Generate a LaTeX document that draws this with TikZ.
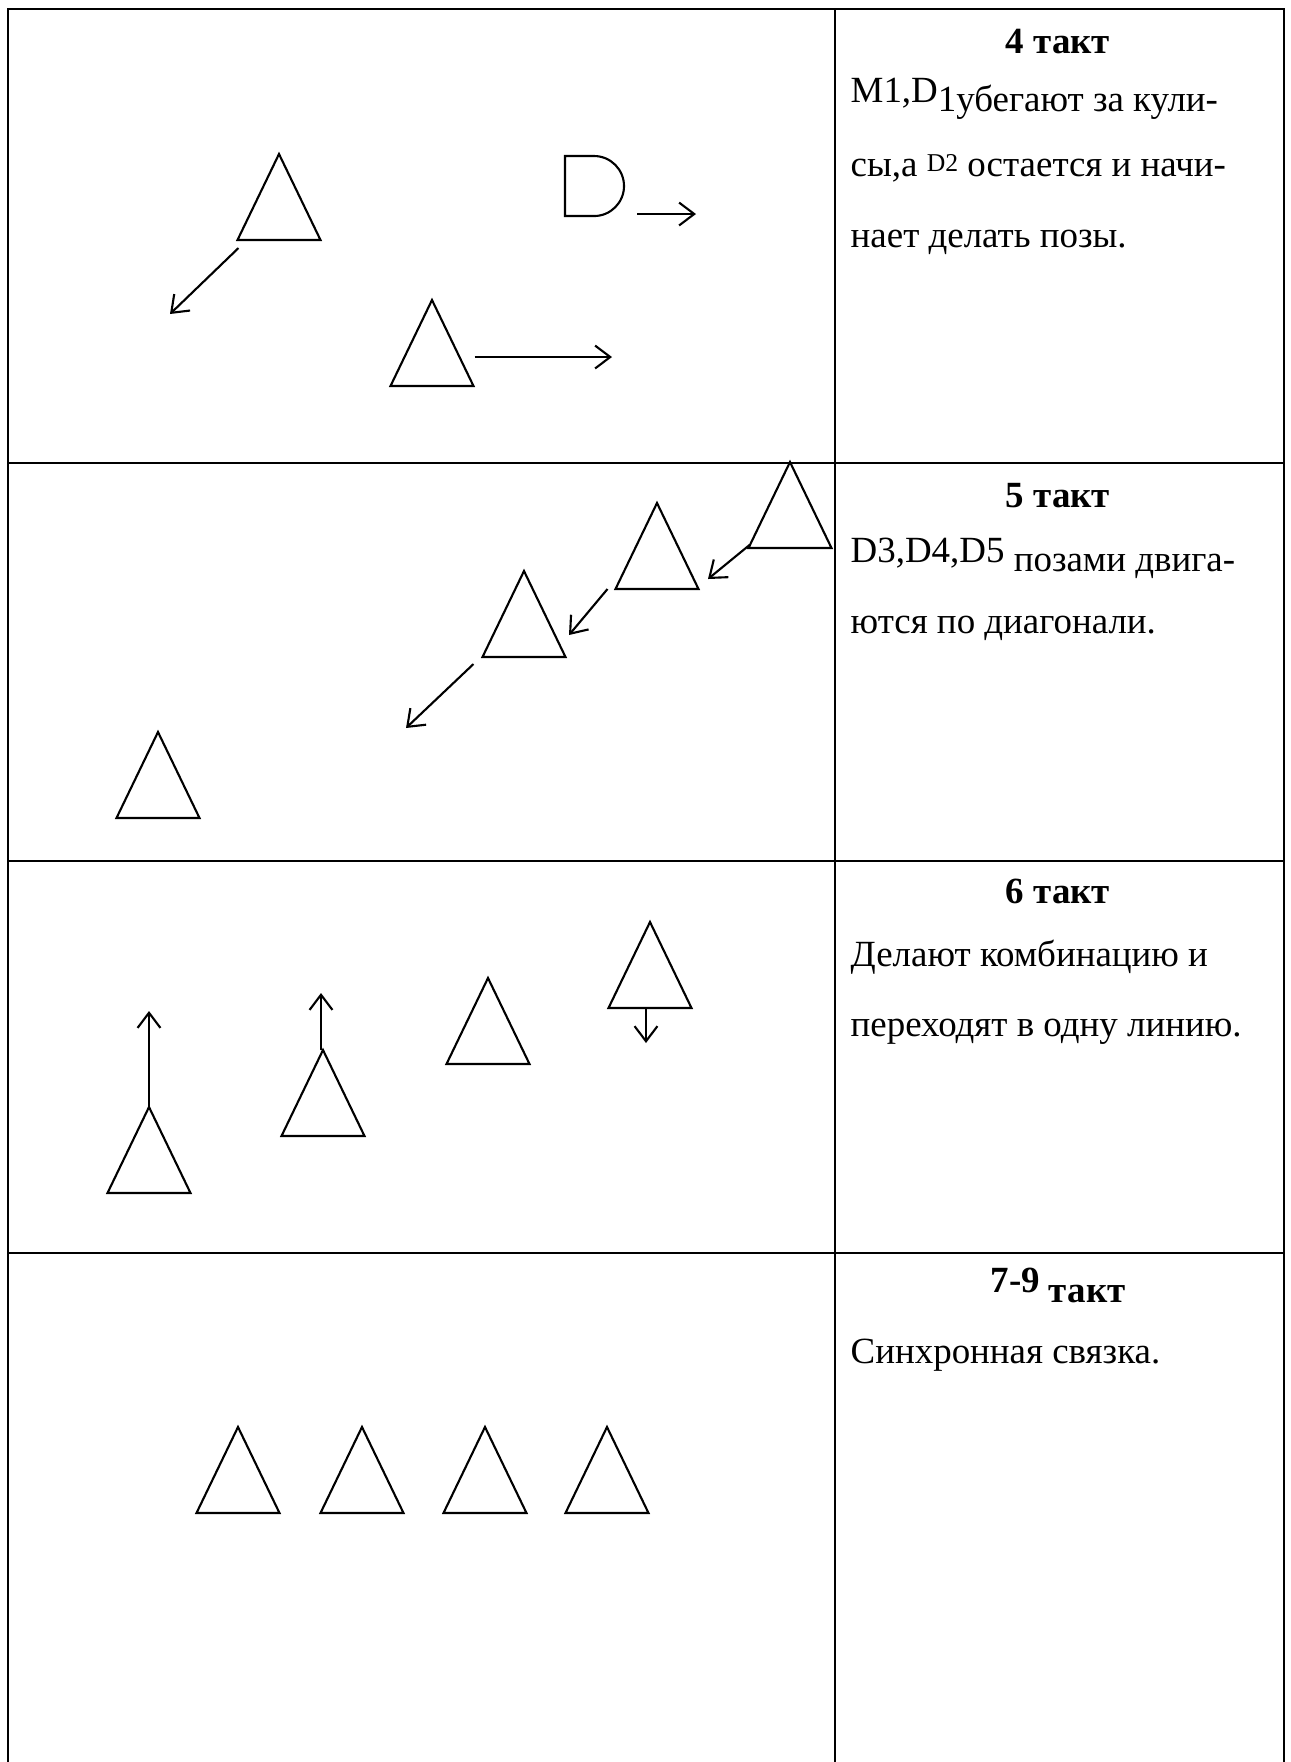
\documentclass[tikz,border=0pt]{standalone}
\usepackage{fontspec}
\setmainfont{Liberation Serif}
\usetikzlibrary{arrows.meta,calc}

\tikzset{
  figline/.style={line width=0.6pt},
  move/.style={line width=0.6pt, -{Straight Barb[length=4.3pt,width=6.5pt]}},
  grid/.style={line width=0.65pt},
  head/.style={anchor=base, inner sep=0pt, font=\fontsize{10.5}{12}\selectfont\bfseries},
  body/.style={anchor=base west, inner sep=0pt, font=\fontsize{10.5}{12}\selectfont},
  dancer/.pic={
    \draw[figline] (-41.5,0) coordinate (-bl) -- (41.5,0) coordinate (-br)
      -- (0,-86) coordinate (-apex) -- cycle;
    \coordinate (-base) at (0,0);
  }
}

\begin{document}
\begin{tikzpicture}[x=0.01cm, y=-0.01cm]
  \useasboundingbox (0,0) rectangle (1291,1762);

  % Table frame, no bottom rule
  \draw[grid] (8,1762) -- (8,9) -- (1284,9) -- (1284,1762);
  \draw[grid] (835,9) -- (835,1762);
  \draw[grid] (8,463) -- (1284,463);
  \draw[grid] (8,861) -- (1284,861);
  \draw[grid] (8,1253) -- (1284,1253);

  % Bar 4
  \pic (m1) at (279,240) {dancer};
  \coordinate (m1go) at (170,314);
  \draw[move] ($(m1-bl)+(1,8)$) -- (m1go);

  \draw[figline] (565,156) coordinate (dtwo) -- (594,156)
    arc[start angle=90, end angle=-90, radius=0.3cm] -- (565,216) -- cycle;
  \coordinate (dtwogo) at (696,214);
  \draw[move] ($(dtwo)+(72,58)$) -- (dtwogo);

  \pic (m2) at (432,386) {dancer};
  \coordinate (m2go) at (612,357);
  \draw[move] ($(m2-br)+(1,-29)$) -- (m2go);

  \node[head] (h4) at (1058,53) {4 такт};
  \node[body] (t4a) at (850,102) {M1,D\raisebox{-2.8pt}{1убегают за кули-}};
  \node[body] (t4b) at (850,176) {сы,а \raisebox{1.2pt}{\fontsize{7.3}{8}\selectfont D2} остается и начи-};
  \node[body] (t4c) at (850,247) {нает делать позы.};

  % Bar 5
  \pic (d3) at (790,548) {dancer};
  \pic (d4) at (657,589) {dancer};
  \pic (d5) at (524,657) {dancer};
  \pic (d6) at (158,818) {dancer};
  \coordinate (d3go) at (708,579);
  \coordinate (d4go) at (569,635);
  \coordinate (d5go) at (406,728);
  \draw[move] ($(d3-bl)+(1,-3)$) -- (d3go);
  \draw[move] ($(d4-bl)+(-8,0)$) -- (d4go);
  \draw[move] ($(d5-bl)+(-9,7)$) -- (d5go);

  \node[head] (h5) at (1058,507) {5 такт};
  \node[body] (t5a) at (850,562) {D3,D4,D5 \raisebox{-2.8pt}{позами двига-}};
  \node[body] (t5b) at (850,633) {ются по диагонали.};

  % Bar 6
  \pic (e1) at (149,1193) {dancer};
  \pic (e2) at (323,1136) {dancer};
  \pic (e3) at (488,1064) {dancer};
  \pic (e4) at (650,1008) {dancer};
  \coordinate (e1go) at (149,1011);
  \coordinate (e2go) at (321,993);
  \coordinate (e4go) at (646,1043);
  \draw[move] (e1-apex) -- (e1go);
  \draw[move] ($(e2-apex)+(-2,0)$) -- (e2go);
  \draw[move] ($(e4-base)+(-4,0)$) -- (e4go);

  \node[head] (h6) at (1058,903) {6 такт};
  \node[body] (t6a) at (850,966) {Делают комбинацию и};
  \node[body] (t6b) at (850,1036) {переходят в одну линию.};

  % Bars 7-9
  \foreach \n/\x in {1/238, 2/362, 3/485, 4/607}
    \pic (f\n) at (\x,1513) {dancer};

  \node[head] (h7) at (1058,1292) {7-9\raisebox{-3pt}{ такт}};
  \node[body] (t7a) at (850,1363) {Синхронная связка.};
\end{tikzpicture}
\end{document}
